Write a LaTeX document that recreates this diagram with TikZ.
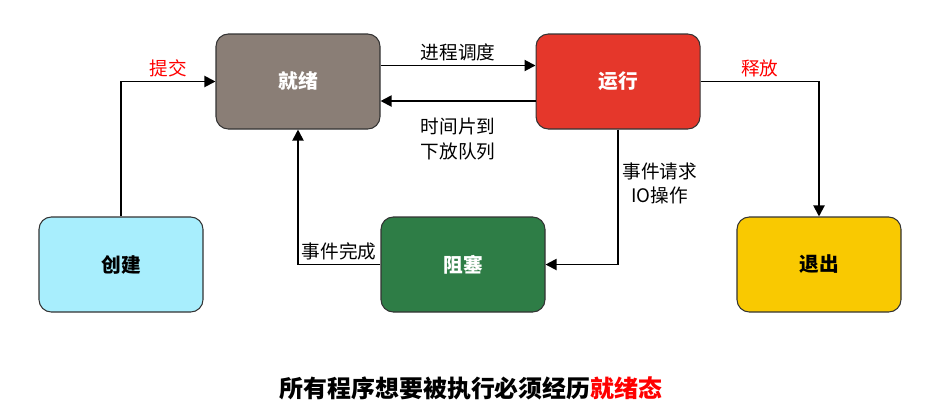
\documentclass[tikz,border=0pt]{standalone}
\usepackage{fontspec}
\setmainfont{Noto Sans CJK SC}
\usepackage{xcolor}
\usepackage{tikz}
\usetikzlibrary{arrows.meta,positioning}
\definecolor{ReadyGray}{HTML}{8A7E76}
\definecolor{RunRed}{HTML}{E5372B}
\definecolor{NewCyan}{HTML}{A8EEFD}
\definecolor{BlockGreen}{HTML}{2E7D46}
\definecolor{ExitYellow}{HTML}{F9C901}
\definecolor{Edge}{HTML}{333333}
\definecolor{NoteRed}{HTML}{FF0000}

\begin{document}
\begin{tikzpicture}[
  state/.style={draw=Edge,line width=0.6pt,rounded corners=7pt,minimum width=3.28cm,minimum height=1.9cm,align=center,font=\fontsize{11.2pt}{13pt}\selectfont\bfseries},
  arr/.style={-{Triangle[length=2.2mm,width=2.2mm]},line width=1.1pt,color=black},
  lbl/.style={font=\fontsize{10.6pt}{14pt}\selectfont,align=center}
]
\useasboundingbox (0,0) rectangle (18.94,-8.1);
\node[state,fill=ReadyGray,text=white] (ready) at (5.96,-1.63) {就绪};
\node[state,fill=RunRed,text=white,right=3.1cm of ready] (run) {运行};
\node[state,fill=NewCyan] (create) at (2.42,-5.29) {创建};
\node[state,fill=BlockGreen,text=white] (block) at (9.26,-5.29) {阻塞};
\node[state,fill=ExitYellow] (exit) at (16.38,-5.29) {退出};
\node[font=\fontsize{13.6pt}{16pt}\selectfont\bfseries] (note) at (9.42,-7.76) {所有程序想要被执行必须经历\textcolor{NoteRed}{就绪态}};
\draw[arr] ([yshift=0.32cm]ready.east) -- node[lbl,above,inner sep=2pt] {进程调度} ([yshift=0.32cm]run.west);
\draw[arr] ([yshift=-0.39cm]run.west) -- node[lbl,below,inner sep=3pt,yshift=-0.22cm] {时间片到\\下放队列} ([yshift=-0.39cm]ready.east);
\draw[arr] (create.north) |- node[lbl,above,pos=0.75,text=NoteRed,inner sep=2pt] {提交} (ready.west);
\draw[arr] (block.west) -| node[lbl,above,pos=0.25,inner sep=2pt] {事件完成} (ready.south);
\draw[arr] (run.south) |- node[lbl,right,pos=0.2,inner sep=2pt] {事件请求\\IO操作} (block.east);
\draw[arr] (run.east) -| node[lbl,above,pos=0.25,text=NoteRed,inner sep=2pt] {释放} (exit.north);
\end{tikzpicture}
\end{document}
